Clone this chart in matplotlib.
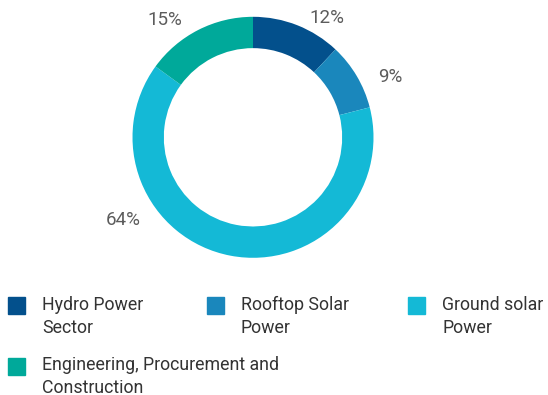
import matplotlib
matplotlib.use("Agg")
import matplotlib.pyplot as plt
from matplotlib.patches import Rectangle

plt.rcParams["font.family"] = ["Roboto", "DejaVu Sans"]

# ---- data ---------------------------------------------------------
categories = ["Hydro Power\nSector", "Rooftop Solar\nPower", "Ground solar\nPower",
              "Engineering, Procurement and\nConstruction"]
shares = [12, 9, 64, 15]
colors = ["#03508c", "#1a87bc", "#14b9d6", "#00a99a"]

# label anchors in pie data units (radius = 1), layout only
label_pos = [(0.61, 0.99), (1.14, 0.50), (-1.075, -0.69), (-0.73, 0.975)]

W, H = 548, 395
fig = plt.figure(figsize=(W / 100, H / 100), dpi=100)

# ---- donut --------------------------------------------------------
R_PX = 120.5
CX, CY = 253, 137.3
LIM = 1.3
side = 2 * LIM * R_PX
ax = fig.add_axes([(CX - side / 2) / W, (H - CY - side / 2) / H, side / W, side / H])
wedges, _ = ax.pie(shares, colors=colors, startangle=90, counterclock=False,
                   radius=1.0, wedgeprops=dict(width=0.26, edgecolor="none"))
ax.set_xlim(-LIM, LIM)
ax.set_ylim(-LIM, LIM)
ax.set_aspect("equal")
ax.axis("off")

for val, (x, y) in zip(shares, label_pos):
    ax.text(x, y, f"{val}%", ha="center", va="center", fontsize=13.5,
            color="#5c5c5c", fontweight="normal")

# ---- legend (manual, html-style grid) -------------------------------
col_x = [8, 207, 408]
row_y = [297, 357.5]
SQ = 17
for i, (name, c) in enumerate(zip(categories, colors)):
    x0 = col_x[i % 3]
    y0 = row_y[i // 3]
    fig.patches.append(Rectangle((x0 / W, 1 - (y0 + SQ) / H), SQ / W, SQ / H,
                                 transform=fig.transFigure, color=c))
    fig.text((x0 + 34) / W, 1 - (y0 - 1.5) / H, name, ha="left", va="top",
             fontsize=12.8, color="#333333", linespacing=1.38)

fig.savefig("out.png", dpi=100)
